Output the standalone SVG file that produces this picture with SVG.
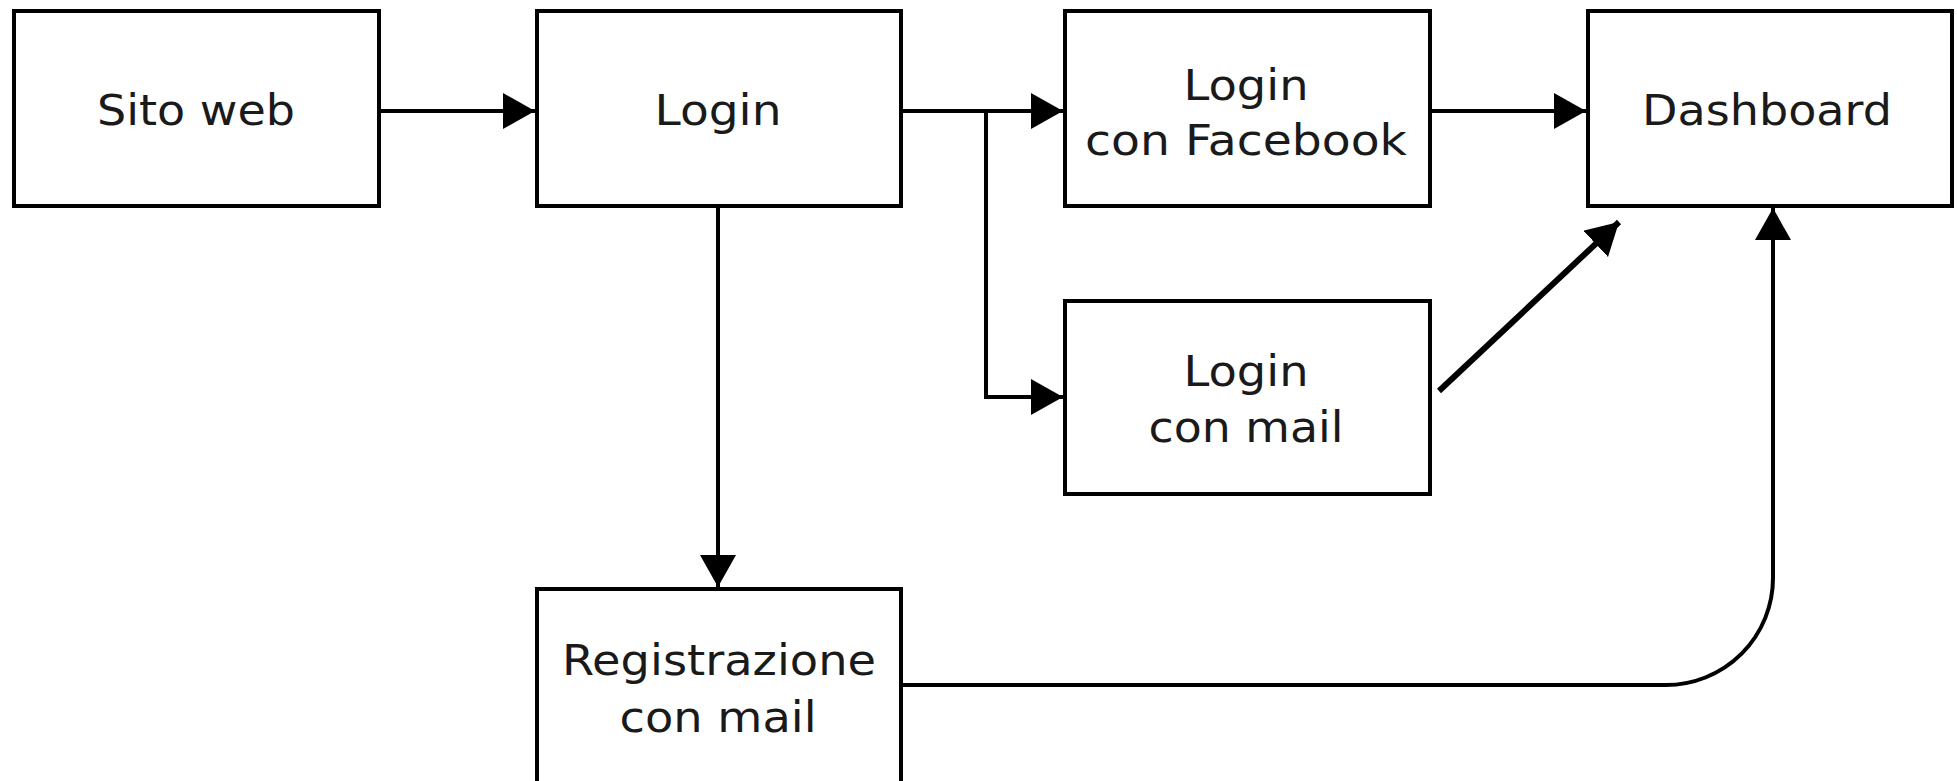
<svg xmlns="http://www.w3.org/2000/svg" width="1957" height="781" viewBox="0 0 1957 781">
<style>
.box{fill:#fff;stroke:#000;stroke-width:4}
.lbl{font-family:"DejaVu Sans","Liberation Sans",sans-serif;font-size:42px;fill:#1a1a1a;text-anchor:middle}
.edge{fill:none;stroke:#000;stroke-width:4}
</style>
<defs>
<marker id="ah" markerUnits="userSpaceOnUse" markerWidth="34" markerHeight="36" refX="32" refY="18" orient="auto">
<path d="M0,0 L32,18 L0,36 z" fill="#000"/>
</marker>
</defs>
<rect width="1957" height="781" fill="#fff"/>
<g id="sito">
<rect class="box" x="14" y="11" width="365" height="195"/>
<text class="lbl" x="196" y="125" textLength="198" lengthAdjust="spacingAndGlyphs">Sito web</text>
</g>
<g id="login">
<rect class="box" x="537" y="11" width="364" height="195"/>
<text class="lbl" x="718" y="125" textLength="127" lengthAdjust="spacingAndGlyphs">Login</text>
</g>
<g id="loginfb">
<rect class="box" x="1065" y="11" width="365" height="195"/>
<text class="lbl" x="1246" y="100" textLength="125" lengthAdjust="spacingAndGlyphs">Login</text>
<text class="lbl" x="1246" y="155" textLength="322" lengthAdjust="spacingAndGlyphs">con Facebook</text>
</g>
<g id="dashboard">
<rect class="box" x="1588" y="11" width="364" height="195"/>
<text class="lbl" x="1767" y="125" textLength="250" lengthAdjust="spacingAndGlyphs">Dashboard</text>
</g>
<g id="loginmail">
<rect class="box" x="1065" y="301" width="365" height="193"/>
<text class="lbl" x="1246" y="386" textLength="125" lengthAdjust="spacingAndGlyphs">Login</text>
<text class="lbl" x="1246" y="442" textLength="195" lengthAdjust="spacingAndGlyphs">con mail</text>
</g>
<g id="registrazione">
<rect class="box" x="537" y="589" width="364" height="220"/>
<text class="lbl" x="719" y="675" textLength="314" lengthAdjust="spacingAndGlyphs">Registrazione</text>
<text class="lbl" x="718" y="732" textLength="197" lengthAdjust="spacingAndGlyphs">con mail</text>
</g>
<g id="connectors">
<path class="edge" d="M379,111 H535" marker-end="url(#ah)"/>
<path class="edge" d="M901,111 H1063" marker-end="url(#ah)"/>
<path class="edge" d="M986,111 V397 H1063" marker-end="url(#ah)"/>
<path class="edge" d="M718,206 V587" marker-end="url(#ah)"/>
<path class="edge" d="M1430,111 H1586" marker-end="url(#ah)"/>
<path class="edge" d="M1439,391 L1619,222" marker-end="url(#ah)" style="stroke-width:6"/>
<path class="edge" d="M901,685 H1666 A107,107 0 0 0 1773,578 V208" marker-end="url(#ah)"/>
</g>
</svg>
